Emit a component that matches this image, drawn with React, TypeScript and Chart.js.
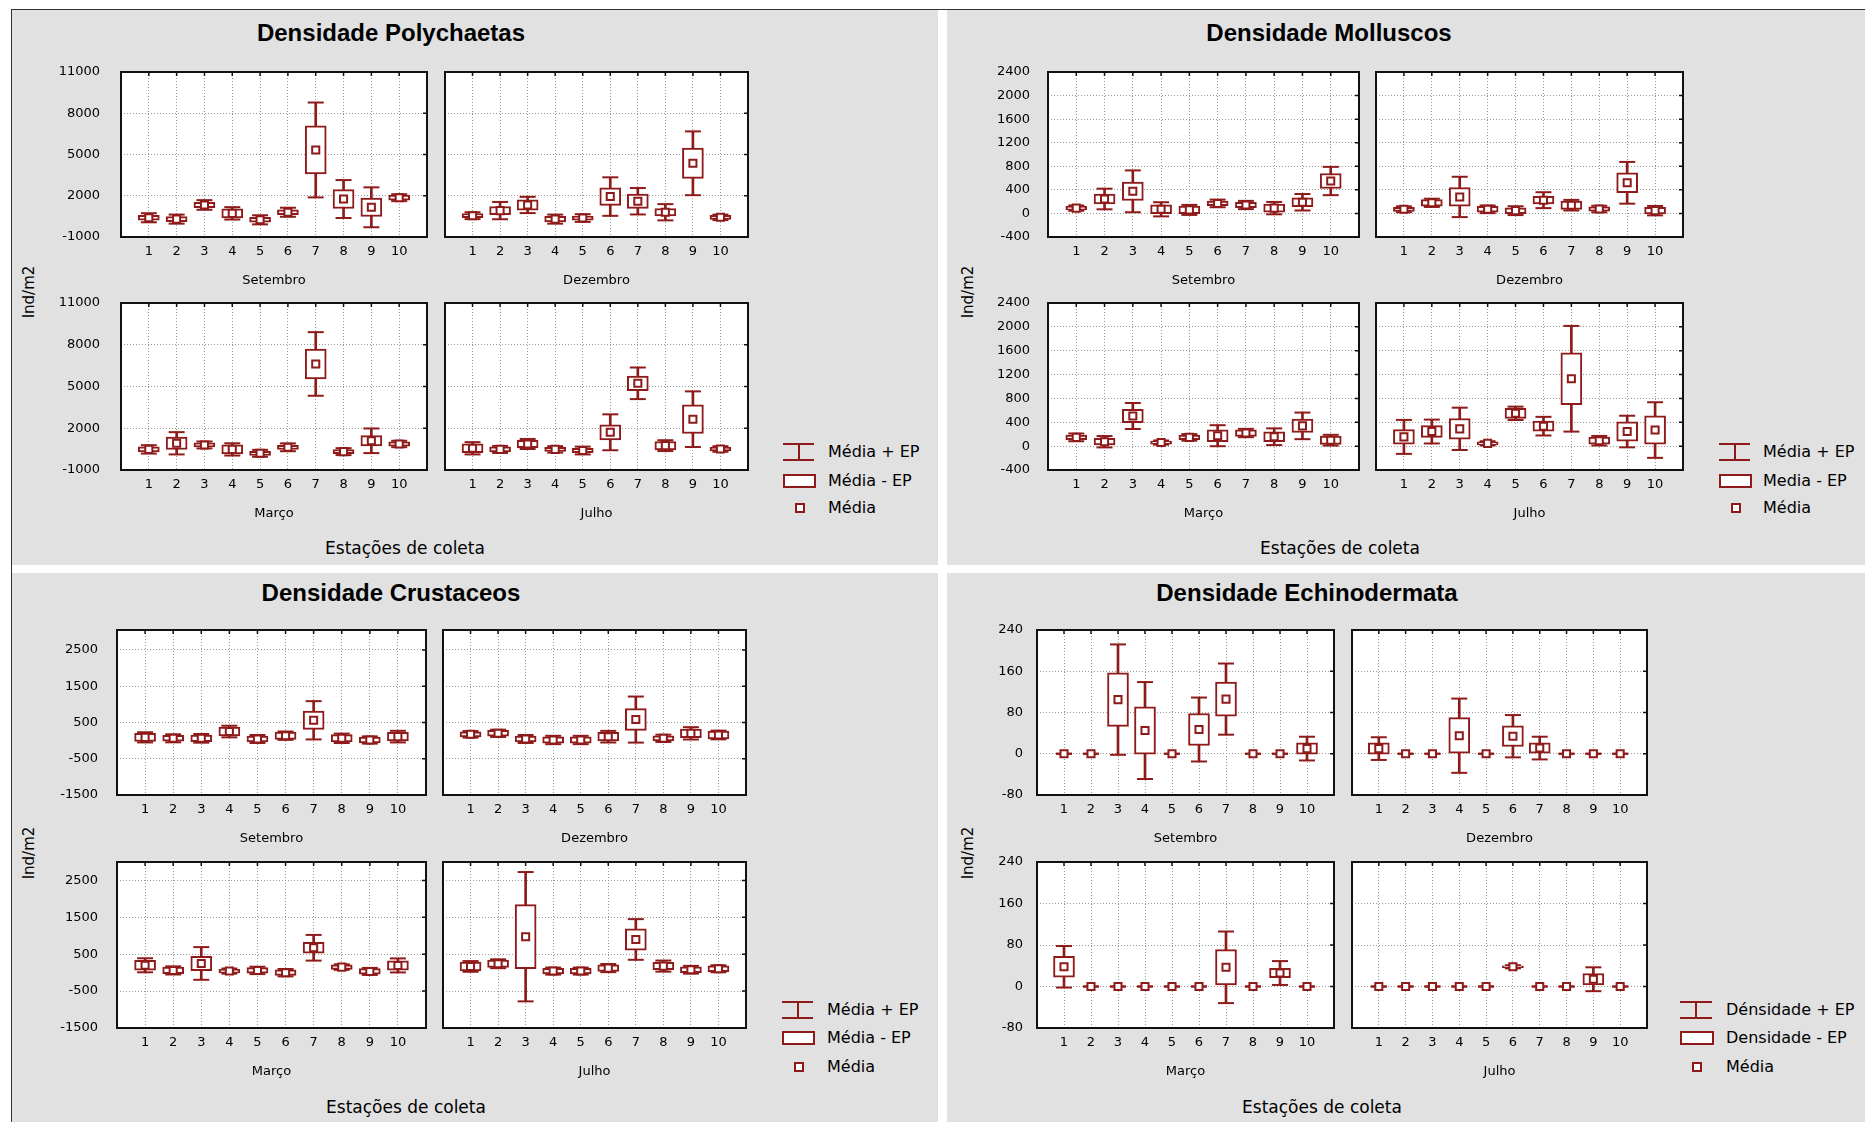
import React, { useEffect, useRef } from 'react';
import { Chart, registerables } from 'chart.js';
Chart.register(...registerables);

const RED = '#8e1a1a';
const GRAY_BG = '#e1e1e1';
const FONT = "'DejaVu Sans', sans-serif";

// ---------- categories ----------
const stations = [1, 2, 3, 4, 5, 6, 7, 8, 9, 10];

// ---------- Polychaetas ----------
const polySetMean = [400, 300, 1330, 720, 250, 800, 5330, 1760, 1160, 1860];
const polySetSE = [180, 180, 200, 330, 180, 180, 1750, 690, 670, 180];
const polySetCI = [330, 330, 350, 450, 330, 330, 3450, 1380, 1450, 250];
const polyDezMean = [550, 920, 1330, 300, 380, 1940, 1600, 800, 4360, 430];
const polyDezSE = [150, 300, 380, 200, 150, 640, 520, 270, 1100, 150];
const polyDezCI = [250, 630, 590, 330, 280, 1400, 960, 590, 2320, 200];
const polyMarMean = [480, 920, 800, 480, 200, 630, 6620, 320, 1100, 870];
const polyMarSE = [180, 450, 150, 330, 150, 150, 1075, 150, 370, 150];
const polyMarCI = [300, 800, 250, 440, 250, 280, 2285, 250, 885, 230];
const polyJulMean = [560, 480, 870, 480, 400, 1710, 5230, 750, 2650, 510];
const polyJulSE = [320, 180, 260, 150, 150, 540, 525, 300, 1030, 130];
const polyJulCI = [440, 250, 360, 230, 280, 1290, 1135, 390, 2000, 200];
const polyTicks = [-1000, 2000, 5000, 8000, 11000];

// ---------- Molluscos ----------
const molSetMean = [90, 245, 375, 70, 60, 170, 143, 90, 190, 550];
const molSetSE = [30, 85, 155, 75, 65, 40, 45, 70, 75, 127];
const molSetCI = [45, 175, 355, 120, 85, 65, 70, 105, 140, 240];
const molDezMean = [70, 180, 280, 70, 47, 225, 140, 75, 520, 47];
const molDezSE = [35, 55, 158, 50, 50, 65, 70, 35, 167, 55];
const molDezCI = [50, 70, 342, 65, 75, 135, 90, 55, 354, 80];
const molMarMean = [147, 74, 505, 60, 147, 175, 220, 158, 340, 100];
const molMarSE = [40, 55, 112, 25, 40, 98, 55, 84, 112, 70];
const molMarCI = [65, 95, 218, 35, 55, 176, 70, 140, 223, 90];
const molJulMean = [155, 245, 290, 47, 550, 335, 1130, 91, 245, 270];
const molJulSE = [123, 98, 173, 25, 84, 84, 436, 60, 162, 238];
const molJulCI = [285, 200, 355, 35, 112, 156, 886, 80, 265, 466];
const molTicks = [-400, 0, 400, 800, 1200, 1600, 2000, 2400];

// ---------- Crustaceos ----------
const cruSetMean = [90, 63, 63, 250, 45, 136, 560, 63, 17, 110];
const cruSetSE = [110, 80, 90, 120, 80, 100, 252, 100, 80, 120];
const cruSetCI = [140, 110, 120, 160, 110, 115, 528, 130, 100, 160];
const cruDezMean = [173, 201, 45, 17, 17, 108, 580, 63, 200, 155];
const cruDezSE = [70, 80, 80, 90, 90, 120, 300, 70, 120, 110];
const cruDezCI = [90, 100, 110, 115, 115, 160, 635, 100, 170, 120];
const cruMarMean = [200, 61, 250, 43, 61, 0, 675, 151, 34, 196];
const cruMarSE = [135, 90, 194, 50, 75, 75, 144, 60, 75, 127];
const cruMarCI = [190, 110, 443, 70, 100, 100, 348, 75, 95, 190];
const cruJulMean = [169, 242, 975, 43, 43, 124, 900, 178, 79, 106];
const cruJulSE = [120, 100, 868, 75, 75, 90, 289, 100, 80, 80];
const cruJulCI = [145, 120, 1753, 95, 95, 110, 551, 150, 105, 95];
const cruTicks = [-1500, -500, 500, 1500, 2500];

// ---------- Echinodermata ----------
const echSetMean = [0, 0, 105, 45, 0, 47, 106, 0, 0, 10];
const echSetSE = [0, 0, 52, 46, 0, 31, 33, 0, 0, 11];
const echSetCI = [0, 0, 107, 94, 0, 62, 69, 0, 0, 23];
const echDezMean = [10, 0, 0, 35, 0, 34, 11, 0, 0, 0];
const echDezSE = [11, 0, 0, 35, 0, 20, 10, 0, 0, 0];
const echDezCI = [22, 0, 0, 72, 0, 41, 22, 0, 0, 0];
const echMarMean = [38, 0, 0, 0, 0, 0, 37, 0, 26, 0];
const echMarSE = [20, 0, 0, 0, 0, 0, 34, 0, 9, 0];
const echMarCI = [40, 0, 0, 0, 0, 0, 69, 0, 23, 0];
const echJulMean = [0, 0, 0, 0, 0, 38, 0, 0, 14, 0];
const echJulSE = [0, 0, 0, 0, 0, 2, 0, 0, 11, 0];
const echJulCI = [0, 0, 0, 0, 0, 3, 0, 0, 23, 0];
const echTicks = [-80, 0, 80, 160, 240];

type Rect = [number, number, number, number];
interface PlotSpec {
  rect: Rect; month: string; mean: number[]; se: number[]; ci: number[];
  showY: boolean;
}
interface Quad {
  bg: Rect; title: string; titlePos: [number, number]; yLab: [number, number];
  xLab: [number, number]; legend: { x0: number; w: number; tx: number; rows: number[]; labels: string[] };
  yMin: number; yMax: number[]; yTicks: number[]; yPad: number; plots: PlotSpec[];
}

const quads: Quad[] = [
  {
    bg: [12, 10, 938, 565], title: 'Densidade Polychaetas', titlePos: [391, 33], yLab: [29, 292], xLab: [405, 548],
    legend: { x0: 783, w: 31, tx: 828, rows: [452, 481, 508], labels: ['Média + EP', 'Média - EP', 'Média'] },
    yMin: -1000, yMax: [11000, 11000], yTicks: polyTicks, yPad: 21,
    plots: [
      { rect: [121, 72, 429, 237], month: 'Setembro', mean: polySetMean, se: polySetSE, ci: polySetCI, showY: true },
      { rect: [441, 72, 750, 237], month: 'Dezembro', mean: polyDezMean, se: polyDezSE, ci: polyDezCI, showY: false },
      { rect: [121, 303, 429, 470], month: 'Março', mean: polyMarMean, se: polyMarSE, ci: polyMarCI, showY: true },
      { rect: [441, 303, 750, 470], month: 'Julho', mean: polyJulMean, se: polyJulSE, ci: polyJulCI, showY: false },
    ],
  },
  {
    bg: [947, 10, 1865, 565], title: 'Densidade Molluscos', titlePos: [1329, 33], yLab: [968, 292], xLab: [1340, 548],
    legend: { x0: 1719, w: 31, tx: 1763, rows: [452, 481, 508], labels: ['Média + EP', 'Media - EP', 'Média'] },
    yMin: -400, yMax: [2400, 2400], yTicks: molTicks, yPad: 18,
    plots: [
      { rect: [1048, 72, 1361, 237], month: 'Setembro', mean: molSetMean, se: molSetSE, ci: molSetCI, showY: true },
      { rect: [1372, 72, 1685, 237], month: 'Dezembro', mean: molDezMean, se: molDezSE, ci: molDezCI, showY: false },
      { rect: [1048, 303, 1361, 470], month: 'Março', mean: molMarMean, se: molMarSE, ci: molMarCI, showY: true },
      { rect: [1372, 303, 1685, 470], month: 'Julho', mean: molJulMean, se: molJulSE, ci: molJulCI, showY: false },
    ],
  },
  {
    bg: [12, 573, 938, 1122], title: 'Densidade Crustaceos', titlePos: [391, 593], yLab: [29, 853], xLab: [406, 1107],
    legend: { x0: 782, w: 31, tx: 827, rows: [1010, 1038, 1067], labels: ['Média + EP', 'Média - EP', 'Média'] },
    yMin: -1500, yMax: [3050, 3000], yTicks: cruTicks, yPad: 19,
    plots: [
      { rect: [117, 630, 428, 795], month: 'Setembro', mean: cruSetMean, se: cruSetSE, ci: cruSetCI, showY: true },
      { rect: [439, 630, 748, 795], month: 'Dezembro', mean: cruDezMean, se: cruDezSE, ci: cruDezCI, showY: false },
      { rect: [117, 862, 428, 1028], month: 'Março', mean: cruMarMean, se: cruMarSE, ci: cruMarCI, showY: true },
      { rect: [439, 862, 748, 1028], month: 'Julho', mean: cruJulMean, se: cruJulSE, ci: cruJulCI, showY: false },
    ],
  },
  {
    bg: [947, 573, 1865, 1122], title: 'Densidade Echinodermata', titlePos: [1307, 593], yLab: [968, 853], xLab: [1322, 1107],
    legend: { x0: 1680, w: 32, tx: 1726, rows: [1010, 1038, 1067], labels: ['Dénsidade + EP', 'Densidade - EP', 'Média'] },
    yMin: -80, yMax: [240, 240], yTicks: echTicks, yPad: 14,
    plots: [
      { rect: [1037, 630, 1336, 795], month: 'Setembro', mean: echSetMean, se: echSetSE, ci: echSetCI, showY: true },
      { rect: [1348, 630, 1649, 795], month: 'Dezembro', mean: echDezMean, se: echDezSE, ci: echDezCI, showY: false },
      { rect: [1037, 862, 1336, 1028], month: 'Março', mean: echMarMean, se: echMarSE, ci: echMarCI, showY: true },
      { rect: [1348, 862, 1649, 1028], month: 'Julho', mean: echJulMean, se: echJulSE, ci: echJulCI, showY: false },
    ],
  },
];

const framePlugin = {
  id: 'frameBox',
  beforeDraw(chart: any) {
    const { ctx, chartArea: a } = chart;
    ctx.save();
    ctx.fillStyle = '#ffffff';
    ctx.fillRect(a.left, a.top, a.right - a.left, a.bottom - a.top);
    ctx.restore();
  },
  afterDraw(chart: any) {
    const { ctx, chartArea: a, scales } = chart;
    ctx.save();
    ctx.strokeStyle = '#111';
    ctx.lineWidth = 2;
    ctx.strokeRect(a.left, a.top, a.right - a.left, a.bottom - a.top);
    ctx.lineWidth = 1.5;
    ctx.beginPath();
    scales.x.ticks.forEach((t: any) => {
      const x = scales.x.getPixelForValue(t.value);
      ctx.moveTo(x, a.top); ctx.lineTo(x, a.top + 4);
    });
    scales.y.ticks.forEach((t: any) => {
      const y = scales.y.getPixelForValue(t.value);
      ctx.moveTo(a.right, y); ctx.lineTo(a.right - 4, y);
    });
    ctx.stroke();
    ctx.restore();
  },
};

function SubPlot({ spec, yMin, yMax, yTicks, yPad }: { spec: PlotSpec; yMin: number; yMax: number; yTicks: number[]; yPad: number }) {
  const ref = useRef<HTMLCanvasElement>(null);
  const L = spec.showY ? 80 : 6, R = 8, T = 36, B = 52;
  const [l, t, r, b] = spec.rect;
  const W = r - l + L + R, H = b - t + T + B;
  useEffect(() => {
    if (!ref.current) return;
    const whisker = stations.map((s, i) => ({ x: s, y: [spec.mean[i] - spec.ci[i], spec.mean[i] + spec.ci[i]] }));
    const box = stations.map((s, i) => ({ x: s, y: [spec.mean[i] - spec.se[i], spec.mean[i] + spec.se[i]] }));
    const caps = stations.flatMap((s, i) => [{ x: s, y: spec.mean[i] + spec.ci[i] }, { x: s, y: spec.mean[i] - spec.ci[i] }]);
    const means = stations.map((s, i) => ({ x: s, y: spec.mean[i] }));
    const tickFont = { family: FONT, size: 13 };
    const chart = new Chart(ref.current, {
      type: 'bar',
      data: {
        datasets: [
          { type: 'bar', data: whisker as any, backgroundColor: RED, borderWidth: 0, grouped: false, barThickness: 2, maxBarThickness: 2, order: 4 } as any,
          { type: 'scatter', data: caps, pointStyle: 'line', pointRadius: 8, borderColor: RED, borderWidth: 2, pointBorderWidth: 2, order: 3 } as any,
          { type: 'bar', data: box as any, backgroundColor: '#ffffff', borderColor: RED, borderWidth: 2, borderSkipped: false, grouped: false, barThickness: 21, maxBarThickness: 21, order: 2 } as any,
          { type: 'scatter', data: means, pointStyle: 'rect', pointRadius: 5, backgroundColor: '#ffffff', borderColor: RED, pointBorderWidth: 2, order: 1 } as any,
        ],
      },
      options: {
        animation: false,
        responsive: false,
        events: [],
        layout: { padding: { top: T, right: R, left: 0, bottom: 0 } },
        plugins: { legend: { display: false }, tooltip: { enabled: false } },
        scales: {
          x: {
            type: 'linear', min: 0, max: 11, offset: false,
            afterBuildTicks: (s: any) => { s.ticks = stations.map((v) => ({ value: v })); },
            afterFit: (s: any) => { s.height = B; },
            grid: { color: '#9a9a9a', lineWidth: 1, drawTicks: false, offset: false },
            border: { display: false, dash: [1, 2] },
            ticks: { padding: 7, font: tickFont, color: '#000', autoSkip: false, maxRotation: 0, callback: (v: any) => String(v) },
            title: { display: true, text: spec.month, font: tickFont, color: '#000', padding: { top: 0, bottom: 1 } },
          },
          y: {
            type: 'linear', min: yMin, max: yMax,
            afterBuildTicks: (s: any) => { s.ticks = yTicks.map((v) => ({ value: v })); },
            afterFit: (s: any) => { s.width = L; },
            grid: { color: '#9a9a9a', lineWidth: 1, drawTicks: false },
            border: { display: false, dash: [1, 2] },
            ticks: { display: spec.showY, padding: yPad, font: tickFont, color: '#000', callback: (v: any) => String(v) },
          },
        },
      } as any,
      plugins: [framePlugin as any],
    });
    return () => chart.destroy();
  }, []);
  return (
    <canvas ref={ref} width={W} height={H}
      style={{ position: 'absolute', left: l - L, top: t - T, width: W, height: H }} />
  );
}

function Txt({ x, y, text, size, bold, rotate, left, family }: { x: number; y: number; text: string; size: number; bold?: boolean; rotate?: boolean; left?: boolean; family?: string }) {
  return (
    <div style={{
      position: 'absolute', left: x, top: y,
      transform: `translate(${left ? '0' : '-50%'}, -50%)${rotate ? ' rotate(-90deg)' : ''}`,
      fontFamily: family || FONT, fontSize: size, fontWeight: bold ? 'bold' : 'normal',
      lineHeight: 1, whiteSpace: 'nowrap', color: '#000',
    }}>{text}</div>
  );
}

function Legend({ lg }: { lg: Quad['legend'] }) {
  const { x0, w, tx, rows, labels } = lg;
  const abs = (s: any) => ({ position: 'absolute' as const, ...s });
  return (
    <>
      <div style={abs({ left: x0, top: rows[0] - 9, width: w, height: 2, background: RED })} />
      <div style={abs({ left: x0, top: rows[0] + 7, width: w, height: 2, background: RED })} />
      <div style={abs({ left: x0 + w / 2 - 1, top: rows[0] - 9, width: 2, height: 18, background: RED })} />
      <div style={abs({ left: x0, top: rows[1] - 7, width: w + 2, height: 14, border: `2px solid ${RED}`, background: '#fff', boxSizing: 'border-box' })} />
      <div style={abs({ left: x0 + w / 2 - 4, top: rows[2] - 5, width: 10, height: 10, border: `2px solid ${RED}`, background: '#fff', boxSizing: 'border-box' })} />
      {labels.map((t, i) => <Txt key={i} x={tx} y={rows[i]} text={t} size={16} left />)}
    </>
  );
}

export default function App() {
  return (
    <div style={{ position: 'absolute', left: 0, top: 0, width: 1865, height: 1122, background: '#fff', overflow: 'hidden' }}>
      <div style={{ position: 'absolute', left: 11, top: 9, width: 1865 - 11, height: 1122 - 9, borderLeft: '1px solid #333', borderTop: '1px solid #333', boxSizing: 'border-box' }} />
      {quads.map((q, qi) => (
        <React.Fragment key={qi}>
          <div style={{ position: 'absolute', left: q.bg[0], top: q.bg[1], width: q.bg[2] - q.bg[0], height: q.bg[3] - q.bg[1], background: GRAY_BG }} />
          <Txt x={q.titlePos[0]} y={q.titlePos[1]} text={q.title} size={24} bold family="'Liberation Sans', Arial, sans-serif" />
          <Txt x={q.yLab[0]} y={q.yLab[1]} text="Ind/m2" size={15} rotate />
          <Txt x={q.xLab[0]} y={q.xLab[1]} text="Estações de coleta" size={17} />
          <Legend lg={q.legend} />
          {q.plots.map((p, pi) => (
            <SubPlot key={pi} spec={p} yMin={q.yMin} yMax={q.yMax[pi < 2 ? 0 : 1]} yTicks={q.yTicks} yPad={q.yPad} />
          ))}
        </React.Fragment>
      ))}
    </div>
  );
}
